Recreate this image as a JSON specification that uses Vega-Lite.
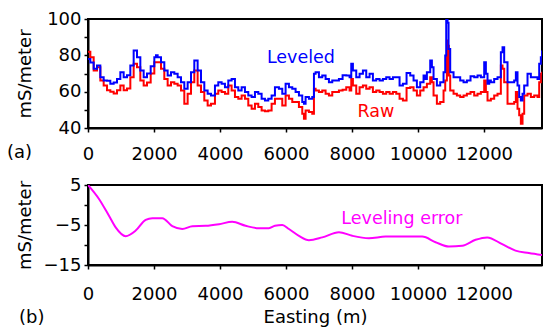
{
  "$schema": "https://vega.github.io/schema/vega-lite/v6.json",
  "padding": {"left": 6, "top": 9, "right": 2, "bottom": 0},
  "bounds": "flush",
  "spacing": 57,
  "config": {
    "font": "DejaVu Sans",
    "view": {"stroke": "#000", "strokeWidth": 2},
    "axis": {"grid": false, "domainColor": "#000", "domainWidth": 2, "tickColor": "#000", "tickWidth": 1.5, "tickSize": 4, "labelColor": "#000", "labelFontSize": 18, "labelFlush": false, "labelOverlap": false, "titleColor": "#000", "titleFontSize": 18, "titleFontWeight": "normal", "labelPadding": 3}
  },
  "datasets": {
    "raw": [
      {"e":0,"v":82},{"e":71,"v":79},{"e":172,"v":71.6},{"e":273,"v":73.5},{"e":374,"v":66.2},{"e":475,"v":63.4},{"e":576,"v":60.8},{"e":677,"v":59.9},{"e":778,"v":59},{"e":879,"v":60.8},{"e":980,"v":63.4},{"e":1081,"v":60.8},{"e":1182,"v":61.7},{"e":1283,"v":68},{"e":1384,"v":75.3},{"e":1485,"v":73.5},{"e":1586,"v":66.2},{"e":1687,"v":63.4},{"e":1788,"v":65},{"e":1900,"v":70},
      {"e":2010,"v":76.2},{"e":2111,"v":76.2},{"e":2212,"v":72.6},{"e":2313,"v":67},{"e":2414,"v":63.4},{"e":2515,"v":65.2},{"e":2616,"v":64.3},{"e":2717,"v":63.4},{"e":2818,"v":60.7},{"e":2919,"v":53.4},{"e":3020,"v":58.8},{"e":3121,"v":65.2},{"e":3222,"v":71.6},{"e":3323,"v":63.4},{"e":3424,"v":59.8},{"e":3525,"v":55.2},{"e":3626,"v":52.4},{"e":3727,"v":53.4},
      {"e":3848,"v":58.8},{"e":3949,"v":60.7},{"e":4050,"v":59.8},{"e":4151,"v":58.8},{"e":4252,"v":63.4},{"e":4353,"v":60.7},{"e":4454,"v":57},{"e":4555,"v":56.1},{"e":4656,"v":57.9},{"e":4757,"v":56.1},{"e":4858,"v":52.4},{"e":4959,"v":50.6},{"e":5060,"v":53.4},{"e":5161,"v":51.5},{"e":5262,"v":49.7},{"e":5363,"v":49.2},{"e":5464,"v":49.7},{"e":5565,"v":53.4},{"e":5666,"v":56.1},
      {"e":5787,"v":56.1},{"e":5888,"v":52.4},{"e":5989,"v":57.9},{"e":6090,"v":56.1},{"e":6191,"v":54.3},{"e":6292,"v":54.3},{"e":6393,"v":51.5},{"e":6494,"v":47.9},{"e":6545,"v":45.1},{"e":6595,"v":49.7},{"e":6696,"v":48.8},{"e":6797,"v":47.9},{"e":6848,"v":61.6},{"e":6898,"v":60.7},{"e":6999,"v":59.8},{"e":7100,"v":60.7},{"e":7201,"v":58.8},{"e":7302,"v":57.9},{"e":7403,"v":59.8},{"e":7504,"v":59.8},{"e":7605,"v":60.7},{"e":7716,"v":61},
      {"e":7827,"v":62.5},{"e":7928,"v":60.7},{"e":7979,"v":67},{"e":8029,"v":63.4},{"e":8130,"v":58.8},{"e":8231,"v":62.5},{"e":8332,"v":63.4},{"e":8433,"v":61.6},{"e":8534,"v":62.5},{"e":8635,"v":59.8},{"e":8736,"v":60.7},{"e":8837,"v":59.8},{"e":8938,"v":58.8},{"e":9039,"v":59.8},{"e":9140,"v":58.8},{"e":9241,"v":59.8},{"e":9342,"v":58.8},{"e":9443,"v":56.1},{"e":9544,"v":55.2},{"e":9655,"v":62},
      {"e":9766,"v":62.5},{"e":9867,"v":60.7},{"e":9968,"v":57.9},{"e":10069,"v":60.7},{"e":10170,"v":62.5},{"e":10271,"v":64.3},{"e":10372,"v":68},{"e":10423,"v":65.2},{"e":10473,"v":57.9},{"e":10574,"v":53.4},{"e":10675,"v":54.3},{"e":10776,"v":60.7},{"e":10827,"v":66.2},{"e":10877,"v":88.1},{"e":10907,"v":85.3},{"e":10938,"v":68.9},{"e":10978,"v":60.7},{"e":11079,"v":58.8},{"e":11180,"v":57.9},{"e":11281,"v":57},{"e":11382,"v":57.9},{"e":11483,"v":58.8},{"e":11594,"v":59.8},
      {"e":11705,"v":57.9},{"e":11806,"v":58.8},{"e":11907,"v":59.8},{"e":12008,"v":66.2},{"e":12059,"v":59.8},{"e":12109,"v":55.2},{"e":12210,"v":56.1},{"e":12311,"v":57.9},{"e":12412,"v":58.8},{"e":12513,"v":74.4},{"e":12564,"v":72.6},{"e":12614,"v":65.2},{"e":12715,"v":53.4},{"e":12816,"v":53.4},{"e":12917,"v":54.3},{"e":12968,"v":59.8},{"e":13018,"v":50.6},{"e":13069,"v":47},{"e":13119,"v":42.4},{"e":13170,"v":47.9},{"e":13220,"v":57.9},{"e":13321,"v":58.8},{"e":13422,"v":57},{"e":13523,"v":57.9},{"e":13624,"v":57},{"e":13675,"v":65.2},{"e":13725,"v":69.8},{"e":13760,"v":71}
    ],
    "lev": [
      {"e":0,"v":78},{"e":71,"v":76},{"e":172,"v":72.6},{"e":273,"v":74.4},{"e":374,"v":68},{"e":475,"v":66.2},{"e":576,"v":66},{"e":677,"v":64.4},{"e":778,"v":65},{"e":879,"v":67},{"e":980,"v":70.7},{"e":1081,"v":68},{"e":1182,"v":69},{"e":1283,"v":74.4},{"e":1384,"v":82.6},{"e":1485,"v":79},{"e":1586,"v":71.6},{"e":1687,"v":68},{"e":1788,"v":70},{"e":1900,"v":74},
      {"e":2010,"v":79},{"e":2061,"v":80},{"e":2111,"v":79},{"e":2212,"v":76.2},{"e":2313,"v":71.6},{"e":2414,"v":68.9},{"e":2515,"v":70.7},{"e":2616,"v":69.8},{"e":2717,"v":68},{"e":2818,"v":65.2},{"e":2919,"v":61.6},{"e":3020,"v":65.2},{"e":3121,"v":70.7},{"e":3222,"v":77.1},{"e":3323,"v":71.6},{"e":3424,"v":65.2},{"e":3525,"v":60.7},{"e":3626,"v":58.8},{"e":3727,"v":57.9},
      {"e":3848,"v":63.4},{"e":3949,"v":65.2},{"e":4050,"v":64.3},{"e":4151,"v":62.5},{"e":4252,"v":66.2},{"e":4353,"v":67},{"e":4454,"v":62.5},{"e":4555,"v":60.7},{"e":4656,"v":62.5},{"e":4757,"v":59.8},{"e":4858,"v":57.9},{"e":4959,"v":57},{"e":5060,"v":59.8},{"e":5161,"v":58.8},{"e":5262,"v":56.1},{"e":5363,"v":55.2},{"e":5464,"v":56.1},{"e":5565,"v":57.9},{"e":5666,"v":62.5},
      {"e":5787,"v":61.6},{"e":5888,"v":58.8},{"e":5989,"v":64.3},{"e":6090,"v":62.5},{"e":6191,"v":61.6},{"e":6292,"v":59.8},{"e":6393,"v":57.9},{"e":6494,"v":54.3},{"e":6545,"v":53.4},{"e":6595,"v":57},{"e":6696,"v":56.1},{"e":6797,"v":57},{"e":6848,"v":69.8},{"e":6898,"v":70.7},{"e":6999,"v":68},{"e":7100,"v":68.9},{"e":7201,"v":67},{"e":7302,"v":65.2},{"e":7403,"v":66.2},{"e":7504,"v":66.2},{"e":7605,"v":67},{"e":7716,"v":69},
      {"e":7827,"v":68.9},{"e":7928,"v":68},{"e":7979,"v":75.3},{"e":8029,"v":71.6},{"e":8130,"v":68},{"e":8231,"v":69.8},{"e":8332,"v":71.6},{"e":8433,"v":68},{"e":8534,"v":69.8},{"e":8635,"v":66.2},{"e":8736,"v":67},{"e":8837,"v":66.2},{"e":8938,"v":67},{"e":9039,"v":68},{"e":9140,"v":67},{"e":9241,"v":68},{"e":9342,"v":68},{"e":9443,"v":63.4},{"e":9544,"v":64.3},{"e":9655,"v":70.3},
      {"e":9766,"v":68.9},{"e":9867,"v":66.2},{"e":9968,"v":62.5},{"e":10069,"v":65.2},{"e":10170,"v":68.9},{"e":10221,"v":67},{"e":10271,"v":70.7},{"e":10372,"v":77.1},{"e":10423,"v":73.5},{"e":10473,"v":67},{"e":10574,"v":63.4},{"e":10675,"v":65.2},{"e":10776,"v":70.7},{"e":10827,"v":79.9},{"e":10857,"v":100},{"e":10897,"v":98},{"e":10928,"v":83.5},{"e":10978,"v":70.7},{"e":11079,"v":68},{"e":11180,"v":68},{"e":11281,"v":66.2},{"e":11382,"v":65.2},{"e":11483,"v":66.2},{"e":11594,"v":68.5},
      {"e":11705,"v":68},{"e":11806,"v":68.9},{"e":11907,"v":68},{"e":12008,"v":76.2},{"e":12059,"v":69.8},{"e":12109,"v":64.3},{"e":12160,"v":66.2},{"e":12210,"v":65.2},{"e":12311,"v":67},{"e":12412,"v":68},{"e":12513,"v":81.7},{"e":12564,"v":84.4},{"e":12614,"v":76.2},{"e":12715,"v":65.2},{"e":12816,"v":65.2},{"e":12917,"v":66.2},{"e":12968,"v":70.7},{"e":13018,"v":63.4},{"e":13069,"v":57},{"e":13119,"v":55.2},{"e":13170,"v":58.8},{"e":13220,"v":63.4},{"e":13321,"v":69.8},{"e":13422,"v":68},{"e":13523,"v":68},{"e":13624,"v":67},{"e":13675,"v":75.3},{"e":13725,"v":79},{"e":13760,"v":82.6}
    ],
    "err": [
      {"e":0,"v":5},{"e":333,"v":1.5},{"e":636,"v":-2.7},{"e":838,"v":-5.6},{"e":1142,"v":-7.8},{"e":1445,"v":-6.4},{"e":1748,"v":-3.7},{"e":1950,"v":-3.3},{"e":2252,"v":-3.3},{"e":2555,"v":-5.3},{"e":2858,"v":-6},{"e":3161,"v":-5.3},{"e":3565,"v":-5.2},{"e":3970,"v":-4.8},{"e":4373,"v":-4.2},{"e":4777,"v":-5.2},{"e":5181,"v":-5.8},{"e":5484,"v":-5.8},{"e":5666,"v":-5.2},{"e":5888,"v":-5},{"e":6090,"v":-6},{"e":6393,"v":-7.7},{"e":6696,"v":-8.8},{"e":7100,"v":-8.1},{"e":7605,"v":-6.8},{"e":8009,"v":-7.7},{"e":8514,"v":-8.3},{"e":9020,"v":-7.9},{"e":9524,"v":-7.9},{"e":10130,"v":-7.9},{"e":10535,"v":-9.3},{"e":10939,"v":-10.4},{"e":11342,"v":-10.2},{"e":11746,"v":-8.7},{"e":12098,"v":-8.1},{"e":12553,"v":-9.8},{"e":12957,"v":-11.4},{"e":13362,"v":-12},{"e":13760,"v":-12.5}
    ],
    "labLev": [{"e":6454,"v":78.8,"t":"Leveled"}],
    "labRaw": [{"e":8727,"v":48.6,"t":"Raw"}],
    "labA": [{"e":-2454,"v":26.1,"t":"(a)"}],
    "labErr": [{"e":9514,"v":-3.55,"t":"Leveling error"}],
    "labB": [{"e":-2090,"v":-28.2,"t":"(b)"}]
  },
  "vconcat": [
    {
      "width": 454,
      "height": 109,
      "resolve": {"axis": {"y": "independent"}},
      "layer": [
        {
          "data": {"name": "raw"},
          "mark": {"type": "line", "interpolate": "step-after", "color": "#ff0000", "strokeWidth": 2, "clip": true},
          "encoding": {
            "x": {"field": "e", "type": "quantitative", "scale": {"domain": [0, 13760], "nice": false, "zero": false},
                  "axis": {"title": null, "format": "d", "labelOverlap": false, "values": [0,1000,2000,3000,4000,5000,6000,7000,8000,9000,10000,11000,12000,13000], "labelExpr": "datum.value % 2000 == 0 ? datum.label : ''", "labelPadding": 13}},
            "y": {"field": "v", "type": "quantitative", "scale": {"domain": [40, 100], "nice": false, "zero": false},
                  "axis": {"orient": "left", "title": "mS/meter", "titlePadding": 12, "format": "d", "values": [40,60,80,100]}}
          }
        },
        {
          "data": {"name": "lev"},
          "mark": {"type": "line", "interpolate": "step-after", "color": "#0000ff", "strokeWidth": 2, "clip": true},
          "encoding": {
            "x": {"field": "e", "type": "quantitative"},
            "y": {"field": "v", "type": "quantitative",
                  "axis": {"orient": "left", "title": null, "labels": false, "domain": false, "values": [50,70,90]}}
          }
        },
        {
          "data": {"name": "labLev"},
          "mark": {"type": "text", "fontSize": 17.5, "baseline": "middle", "align": "center", "color": "#0000ff"},
          "encoding": {"x": {"field": "e", "type": "quantitative"}, "y": {"field": "v", "type": "quantitative", "axis": null}, "text": {"field": "t"}}
        },
        {
          "data": {"name": "labRaw"},
          "mark": {"type": "text", "fontSize": 17.5, "baseline": "middle", "align": "center", "color": "#ff0000"},
          "encoding": {"x": {"field": "e", "type": "quantitative"}, "y": {"field": "v", "type": "quantitative", "axis": null}, "text": {"field": "t"}}
        },
        {
          "data": {"name": "labA"},
          "mark": {"type": "text", "fontSize": 18, "baseline": "middle", "align": "left", "color": "#000000"},
          "encoding": {"x": {"field": "e", "type": "quantitative"}, "y": {"field": "v", "type": "quantitative", "axis": null}, "text": {"field": "t"}}
        }
      ]
    },
    {
      "width": 454,
      "height": 80,
      "resolve": {"axis": {"y": "independent"}},
      "layer": [
        {
          "data": {"name": "err"},
          "mark": {"type": "line", "interpolate": "monotone", "color": "#ff00ff", "strokeWidth": 2, "clip": true},
          "encoding": {
            "x": {"field": "e", "type": "quantitative", "scale": {"domain": [0, 13760], "nice": false, "zero": false},
                  "axis": {"title": "Easting (m)", "titlePadding": 5, "format": "d", "labelOverlap": false, "values": [0,1000,2000,3000,4000,5000,6000,7000,8000,9000,10000,11000,12000,13000], "labelExpr": "datum.value % 2000 == 0 ? datum.label : ''", "labelPadding": 16}},
            "y": {"field": "v", "type": "quantitative", "scale": {"domain": [-15, 5], "nice": false, "zero": false},
                  "axis": {"orient": "left", "title": "mS/meter", "titlePadding": 9, "format": "d", "values": [-15,-5,5]}}
          }
        },
        {
          "data": {"name": "labErr"},
          "mark": {"type": "text", "fontSize": 17.5, "baseline": "middle", "align": "center", "color": "#ff00ff"},
          "encoding": {"x": {"field": "e", "type": "quantitative"}, "y": {"field": "v", "type": "quantitative",
                  "axis": {"orient": "left", "title": null, "labels": false, "domain": false, "values": [-10,0]}}, "text": {"field": "t"}}
        },
        {
          "data": {"name": "labB"},
          "mark": {"type": "text", "fontSize": 18, "baseline": "middle", "align": "left", "color": "#000000"},
          "encoding": {"x": {"field": "e", "type": "quantitative"}, "y": {"field": "v", "type": "quantitative", "axis": null}, "text": {"field": "t"}}
        }
      ]
    }
  ]
}
